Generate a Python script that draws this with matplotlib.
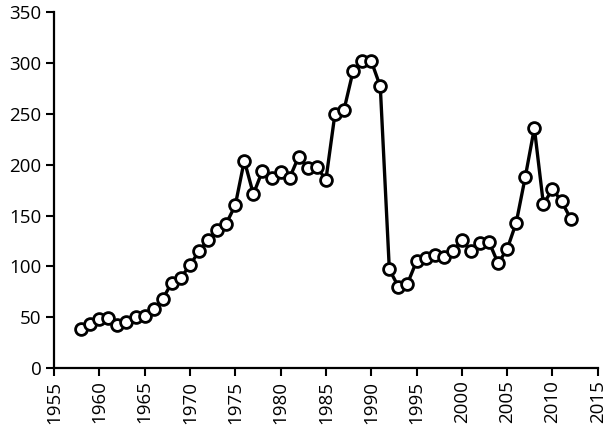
import matplotlib
matplotlib.use("Agg")
import matplotlib.pyplot as plt

# yearly values
years = list(range(1958, 2013))
values = [38, 43, 48, 49, 42, 45, 50, 51, 58, 68,
          84, 89, 101, 115, 126, 136, 142, 160, 204, 171,
          194, 187, 193, 187, 208, 197, 198, 185, 250, 254,
          292, 302, 302, 277, 97, 80, 83, 105, 108, 111,
          109, 115, 126, 115, 123, 124, 103, 117, 143, 188,
          236, 161, 176, 164, 147]

x_ticks = list(range(1955, 2016, 5))
y_ticks = list(range(0, 351, 50))

plt.rcParams['font.family'] = ['Open Sans', 'DejaVu Sans']

fig = plt.figure(figsize=(6.10, 4.33), dpi=100)
ax = fig.add_axes([0.0885, 0.150, 0.8915, 0.822])

ax.plot(years, values, color='black', linewidth=2.4, marker='o',
        markersize=8.5, markerfacecolor='white', markeredgecolor='black',
        markeredgewidth=2.0, zorder=3)

ax.set_xlim(1955, 2015)
ax.set_ylim(0, 350)
ax.set_xticks(x_ticks)
ax.set_yticks(y_ticks)
ax.set_xticklabels([str(t) for t in x_ticks], rotation=90, fontsize=13.5)
ax.set_yticklabels([str(t) for t in y_ticks], fontsize=13.5)

for side in ['top', 'right']:
    ax.spines[side].set_visible(False)
for side in ['left', 'bottom']:
    ax.spines[side].set_linewidth(1.6)
    ax.spines[side].set_color('black')
ax.tick_params(direction='out', length=6, width=1.5, colors='black', pad=3)

fig.savefig('out.png', dpi=100)
